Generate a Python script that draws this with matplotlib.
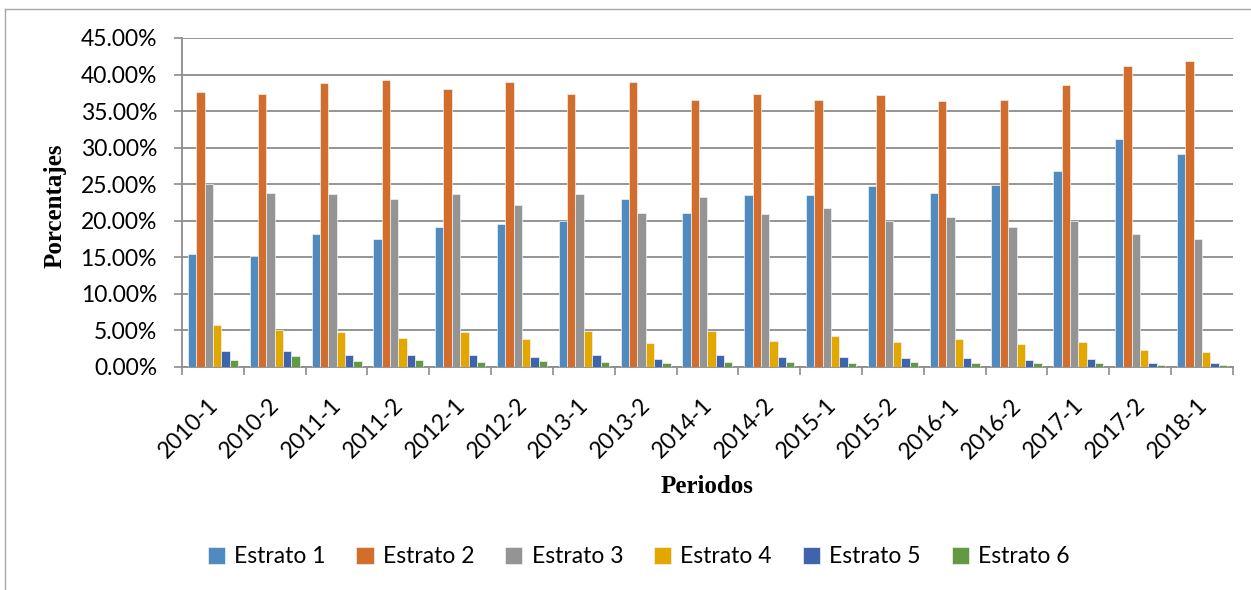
import matplotlib
matplotlib.use("Agg")
import matplotlib.pyplot as plt
import matplotlib.transforms as mtransforms
from matplotlib.ticker import PercentFormatter
from matplotlib.lines import Line2D
import numpy as np

periodos = ["2010-1", "2010-2", "2011-1", "2011-2", "2012-1", "2012-2", "2013-1",
            "2013-2", "2014-1", "2014-2", "2015-1", "2015-2", "2016-1", "2016-2",
            "2017-1", "2017-2", "2018-1"]

estrato_1 = [15.43, 15.20, 18.17, 17.49, 19.18, 19.54, 19.90, 22.97, 21.00, 23.50,
             23.50, 24.70, 23.74, 24.84, 26.76, 31.19, 29.09]
estrato_2 = [37.63, 37.40, 38.86, 39.22, 38.04, 39.00, 37.35, 38.95, 36.48, 37.40,
             36.53, 37.26, 36.44, 36.58, 38.58, 41.19, 41.92]
estrato_3 = [25.07, 23.80, 23.70, 23.00, 23.70, 22.10, 23.60, 21.00, 23.24, 20.87,
             21.74, 19.95, 20.55, 19.13, 19.95, 18.17, 17.44]
estrato_4 = [5.80, 5.07, 4.75, 3.97, 4.75, 3.79, 4.89, 3.29, 4.98, 3.52,
             4.29, 3.47, 3.88, 3.15, 3.38, 2.28, 2.01]
estrato_5 = [2.15, 2.19, 1.69, 1.60, 1.60, 1.37, 1.60, 1.14, 1.69, 1.32,
             1.42, 1.23, 1.28, 1.00, 1.05, 0.59, 0.55]
estrato_6 = [1.00, 1.46, 0.78, 1.00, 0.73, 0.78, 0.73, 0.59, 0.73, 0.73,
             0.59, 0.73, 0.55, 0.55, 0.50, 0.27, 0.23]

series = [estrato_1, estrato_2, estrato_3, estrato_4, estrato_5, estrato_6]
nombres = ["Estrato 1", "Estrato 2", "Estrato 3", "Estrato 4", "Estrato 5", "Estrato 6"]
colores = ["#508BBF", "#D36D2B", "#949494", "#E2A800", "#3D64AD", "#619A41"]

fig = plt.figure(figsize=(12.51, 5.90), dpi=100)
ax = fig.add_axes([0.1455, 0.378, 0.84, 0.5576])

x = np.arange(len(periodos))
ancho = 0.135
for i, (vals, nombre, color) in enumerate(zip(series, nombres, colores)):
    ax.bar(x + (i - 2.5) * ancho, np.array(vals) / 100, ancho, color=color,
           edgecolor="#f2f2f2", linewidth=0.5, label=nombre, zorder=3)

ax.set_xlim(-0.5, len(periodos) - 0.5)
ax.set_ylim(0, 0.45)
ax.set_yticks(np.arange(0, 0.451, 0.05))
ax.yaxis.set_major_formatter(PercentFormatter(1.0, decimals=2))
ax.grid(axis="y", color="#8c8c8c", linewidth=1.3, zorder=0)
for s in ["top", "right"]:
    ax.spines[s].set_visible(False)
ax.spines["left"].set_color("#8c8c8c")
ax.spines["bottom"].set_color("#8c8c8c")
ax.spines["left"].set_linewidth(1.3)
ax.spines["bottom"].set_linewidth(1.3)

ax.tick_params(axis="y", length=6, color="#8c8c8c", width=1.2, pad=12,
               labelsize=16.5)
for lab in ax.get_yticklabels():
    lab.set_fontfamily("Lato")

ax.set_xticks(x)
ax.set_xticks(np.arange(-0.5, len(periodos)), minor=True)
ax.tick_params(axis="x", which="major", length=0, pad=20)
ax.tick_params(axis="x", which="minor", length=6, color="#8c8c8c", width=1.2)
ax.set_xticklabels(periodos, rotation=45, ha="right", va="top",
                   fontsize=16.5, family="Lato")
offset = mtransforms.ScaledTranslation(9 / 100, 0, fig.dpi_scale_trans)
for lab in ax.get_xticklabels():
    lab.set_transform(lab.get_transform() + offset)

fig.text(0.044, 0.652, "Porcentajes", rotation=90, ha="center", va="center",
         fontsize=18, fontweight="bold", family="Liberation Serif")
fig.text(0.565, 0.175, "Periodos", ha="center", va="center",
         fontsize=18, fontweight="bold", family="Liberation Serif")

leg = fig.legend(loc="center", bbox_to_anchor=(0.5105, 0.056), ncol=6, frameon=False,
                 prop={"family": "Lato", "size": 16.5}, handlelength=0.75,
                 handleheight=0.75, handletextpad=0.4, columnspacing=1.35)

# borde del grafico (solo arriba e izquierda visibles)
fig.add_artist(Line2D([5 / 1251, 1], [1 - 9 / 590, 1 - 9 / 590],
                      color="#a6a6a6", linewidth=1, transform=fig.transFigure))
fig.add_artist(Line2D([5 / 1251, 5 / 1251], [0, 1 - 9 / 590],
                      color="#a6a6a6", linewidth=1, transform=fig.transFigure))

fig.savefig("out.png", dpi=100)
